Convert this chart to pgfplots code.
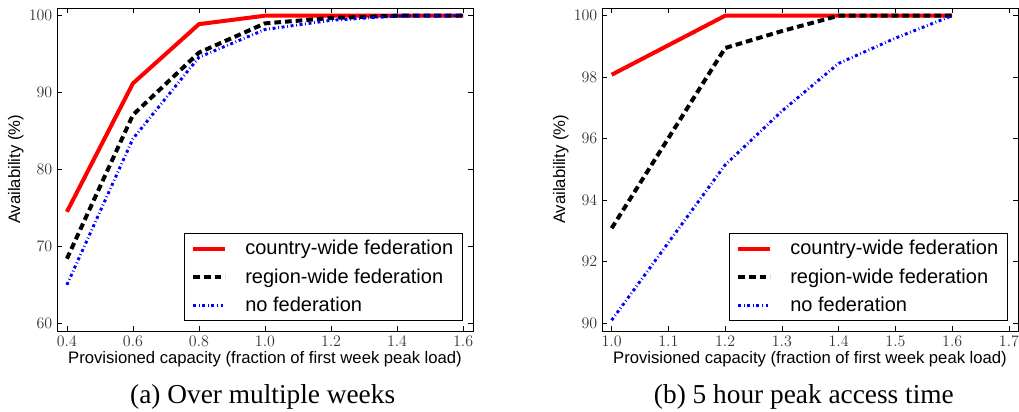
\documentclass[border=0pt]{standalone}
\usepackage{pgfplots}
\pgfplotsset{compat=1.18}
\usepackage{fontspec}
\setmainfont{Liberation Serif}
\newfontfamily\arial{Liberation Sans}
\begin{document}
\begin{tikzpicture}
\useasboundingbox (0,0) rectangle (764.25pt,308.25pt);
\pgfplotsset{
  common/.style={
    scale only axis, width=312pt, height=242.25pt, anchor=south west,
    tick align=inside, major tick length=4pt,
    axis line style={line width=0.7pt},
    every tick/.style={black, line width=0.6pt},
    ticklabel style={font=\fontsize{11.5}{12}\selectfont, text=black!80},
    xticklabel style={/pgf/number format/.cd, fixed, fixed zerofill, precision=1},
    yticklabel style={/pgf/number format/.cd, fixed, precision=0},
    xlabel={\arial\fontsize{12.5}{13}\selectfont Provisioned capacity (fraction of first week peak load)},
    ylabel={\arial\fontsize{12.5}{13}\selectfont Availability (\%)},
    xlabel style={yshift=3pt},
    ylabel style={yshift=-3pt},
    legend style={at={(1,0)}, anchor=south east, xshift=-7.5pt, yshift=7.5pt,
      font=\arial\fontsize{15}{16}\selectfont, draw=black, line width=0.7pt,
      inner xsep=5pt, inner ysep=3pt, row sep=5pt},
    legend cell align=left,
    legend image code/.code={\path[draw=none,fill=none] (-2pt,0pt) -- (37pt,0pt); \draw[##1] (0pt,0pt) -- (24pt,0pt);},
    clip=false,
  },
  cw/.style={red, line width=3pt},
  rw/.style={black, line width=3pt, dash pattern=on 5pt off 3pt},
  nf/.style={blue, line width=2.2pt, dash pattern=on 2.2pt off 2pt on 0.6pt off 2pt},
}
\begin{axis}[common, at={(42.75pt,60pt)},
  xmin=0.37, xmax=1.63, ymin=59, ymax=101,
  xtick={0.4,0.6,0.8,1.0,1.2,1.4,1.6}, ytick={60,70,80,90,100}]
\addplot[cw] coordinates {(0.4,74.5) (0.6,91.2) (0.8,98.9) (1.0,100) (1.2,100) (1.4,100) (1.6,100)};
\addplot[rw] coordinates {(0.4,68.4) (0.6,87.1) (0.8,95.2) (1.0,99.0) (1.2,99.7) (1.4,100) (1.6,100)};
\addplot[nf] coordinates {(0.4,65.0) (0.6,84.0) (0.8,94.6) (1.0,98.2) (1.2,99.4) (1.4,99.95) (1.6,100)};
\legend{country-wide federation, region-wide federation, no federation}
\end{axis}
\begin{axis}[common, at={(451.5pt,60pt)},
  xmin=0.983, xmax=1.716, ymin=89.75, ymax=100.25,
  xtick={1.0,1.1,1.2,1.3,1.4,1.5,1.6,1.7}, ytick={90,92,94,96,98,100}]
\addplot[cw] coordinates {(1.0,98.08) (1.2,100) (1.4,100) (1.6,100)};
\addplot[rw] coordinates {(1.0,93.09) (1.2,98.95) (1.3,99.5) (1.4,100) (1.6,100)};
\addplot[nf] coordinates {(1.0,90.1) (1.2,95.15) (1.3,96.9) (1.4,98.45) (1.5,99.27) (1.6,100)};
\legend{country-wide federation, region-wide federation, no federation}
\end{axis}
\node[font=\fontsize{20.5}{22}\selectfont, anchor=base] at (197pt,6pt) {(a) Over multiple weeks};
\node[font=\fontsize{20.5}{22}\selectfont, anchor=base] at (602.9pt,6pt) {(b) 5 hour peak access time};
\end{tikzpicture}
\end{document}
